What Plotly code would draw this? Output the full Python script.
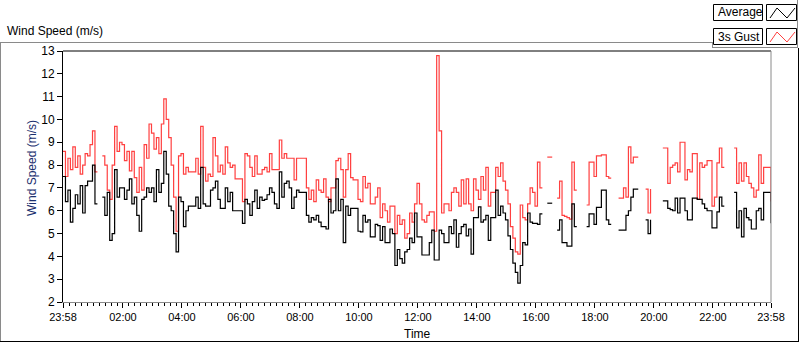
import pandas as pd
import plotly.graph_objects as go

N = None
# 5-minute samples starting 23:58, one row per hour
gust = [
    8.6, 7.5, 8.3, 7.8, 8.8, 7.9, 8.4, 7.6, 8.0, 8.5, 8.4, 8.9,
    9.5, 7.7, 7.7, N, 8.4, 8.0, 6.9, 6.5, 8.0, 9.7, 8.6, 9.0,
    8.9, 8.2, 8.6, 7.75, 8.6, 7.45, 6.8, 7.9, 6.9, 8.9, 8.3, 9.8,
    9.4, 8.7, 9.2, 8.5, 9.8, 10.9, 10.0, 9.2, 8.0, 6.6, 5.1, 8.4,
    8.5, 7.6, 7.9, 7.7, 7.7, 7.7, 8.3, 7.6, 9.7, 7.9, 7.3, 7.6,
    7.5, 9.2, 8.4, 7.7, 8.0, 7.6, 8.8, 8.1, 7.9, 8.0, 7.4, 7.4,
    7.4, 6.4, 8.5, 8.4, 7.9, 7.5, 8.4, 7.6, 7.6, 7.8, 7.9, 7.7,
    8.5, 7.8, 7.8, 7.8, 9.1, 8.3, 8.5, 8.3, 8.3, 8.3, 7.35, 8.3,
    8.3, 8.3, 8.3, 7.0, 6.5, 6.9, 6.4, 7.35, 6.9, 6.8, 7.4, 6.6,
    6.4, 7.0, 7.0, 8.2, 8.3, 7.8, 6.6, 7.8, 8.5, 7.45, 7.35, 7.35,
    6.5, 6.4, 7.5, 7.0, 7.2, 6.3, 6.3, 6.6, 7.0, 5.7, 6.3, 6.0,
    5.5, 6.2, 6.2, 5.0, 5.8, 5.4, 5.6, 4.8, 5.0, 5.9, 5.5, 6.3,
    7.2, 6.3, 5.6, 5.5, 5.8, 5.95, 5.95, 5.1, 12.8, 9.5, 5.9, 6.3,
    6.3, 6.0, 6.8, 7.0, 6.8, 6.2, 7.35, 6.3, 7.4, 6.3, 6.0, 7.4,
    6.9, 6.5, 7.5, 6.9, 7.9, 6.2, 6.8, 6.8, 7.9, 7.5, 8.1, 7.3,
    6.9, 6.3, 5.3, 4.8, 4.2, 4.1, 6.25, 5.7, 5.6, 6.3, 7.0, 6.8,
    6.2, 8.13, 7.0, 7.0, N, 8.35, 8.35, 8.35, N, 6.55, 7.3, 5.8,
    5.75, 5.7, 5.63, 8.13, 6.9, 6.9, N, N, N, 6.25, 8.13, 8.13,
    7.5, 8.4, 8.4, 8.45, 8.45, 7.5, 7.43, 7.43, N, N, 6.55, 6.55,
    7.0, 6.6, 8.8, 8.1, 8.35, 8.35, 8.35, N, N, 6.95, 5.9, 6.95,
    N, N, N, N, 8.75, 8.75, 7.2, 7.9, 8.0, 8.1, 7.7, 9.0,
    9.0, 7.35, 7.8, 7.7, 8.5, 8.5, 6.5, 8.1, 7.9, 8.0, 8.2, 8.2,
    6.2, 6.6, 8.1, 8.75, 7.9, 7.9, N, N, N, 8.75, 7.2, 8.1,
    7.3, 8.1, 7.5, 7.2, 7.0, 6.6, 6.9, 8.45, 7.2, 7.9, 7.9, 7.9, 6.4,
]
average = [
    7.5, 6.4, 6.9, 5.5, 6.1, 6.7, 6.3, 7.1, 5.9, 7.1, 7.3, 7.3,
    8.0, 6.3, 6.3, N, 6.6, 5.8, 6.8, 4.7, 5.0, 7.8, 6.6, 7.0,
    7.0, 6.5, 6.9, 7.4, 6.3, 6.6, 5.8, 5.1, 6.5, 6.6, 7.0, 6.8,
    7.0, 6.4, 7.8, 6.8, 7.2, 8.6, 7.6, 6.2, 6.0, 5.0, 4.2, 6.6,
    6.4, 5.3, 6.0, 6.2, 6.2, 6.2, 6.6, 6.1, 7.9, 6.3, 6.2, 6.2,
    6.9, 7.0, 7.3, 6.5, 6.1, 6.1, 7.0, 6.4, 6.8, 6.0, 6.0, 6.0,
    6.0, 5.45, 6.5, 6.3, 5.8, 6.4, 6.9, 6.1, 6.6, 6.45, 6.5, 6.7,
    7.0, 6.8, 6.3, 6.1, 7.7, 6.6, 7.2, 7.3, 7.0, 6.1, 6.6, 6.9,
    6.8, 6.8, 6.8, 5.8, 5.5, 5.7, 5.6, 5.8, 5.5, 5.3, 5.3, 5.2,
    6.5, 5.9, 6.0, 7.4, 6.0, 6.5, 4.6, 6.2, 5.8, 6.1, 6.1, 6.1,
    5.1, 5.07, 5.8, 5.5, 5.6, 4.85, 4.85, 5.4, 5.35, 4.7, 5.3, 4.6,
    4.6, 5.2, 5.0, 3.6, 4.3, 3.9, 3.7, 4.2, 4.3, 4.8, 4.6, 5.9,
    4.85, 4.85, 4.06, 4.06, 4.06, 4.6, 5.15, 3.84, 3.84, 5.15, 5.0, 4.6,
    4.6, 5.3, 5.0, 5.6, 4.4, 5.0, 5.3, 5.4, 4.9, 5.2, 4.1, 5.7,
    5.7, 6.17, 5.5, 5.6, 5.8, 4.7, 5.7, 5.7, 6.9, 5.8, 6.2, 5.9,
    5.6, 4.9, 4.3, 3.7, 3.3, 2.83, 3.6, 4.6, 4.5, 5.9, 5.5, 5.45,
    5.45, 5.4, 5.86, 5.86, N, 6.33, 6.33, 6.33, N, 5.15, 5.6, 4.6,
    4.6, 4.45, 4.45, 6.3, 5.3, 5.3, N, N, N, 5.3, 5.86, 5.86,
    5.4, 6.15, 6.15, 6.9, 6.9, 5.6, 5.4, 5.4, N, N, 5.15, 5.15,
    5.15, 5.8, 6.0, 6.6, 6.95, 6.95, 6.95, N, N, 5.6, 5.0, 5.6,
    N, N, N, N, 6.43, 6.43, 6.1, 6.05, 6.0, 6.55, 5.9, 6.55,
    6.55, 6.0, 5.6, 5.6, 6.55, 6.55, 6.5, 6.5, 6.3, 6.1, 6.0, 6.0,
    5.25, 5.25, 5.95, 6.6, 6.2, 6.2, N, N, N, 6.8, 5.25, 6.0,
    4.85, 6.1, 5.7, 5.6, 5.2, 5.2, 6.0, 6.1, 5.6, 6.8, 6.8, 6.8, 5.45,
]
tick_labels = ["23:58", "02:00", "04:00", "06:00", "08:00", "10:00", "12:00",
               "14:00", "16:00", "18:00", "20:00", "22:00", "23:58"]
series_names = ["Average", "3s Gust"]

start = pd.Timestamp("2024-01-01 23:58")
end = start + pd.Timedelta(hours=24)
times = pd.date_range(start, periods=len(gust), freq="5min")
tick_vals = [start] + [pd.Timestamp("2024-01-02 00:00") + pd.Timedelta(hours=h)
                       for h in range(2, 24, 2)] + [end]

W, H = 800, 342
L, R, T, B = 63, 771, 51, 302
FONT = "Liberation Sans"

def px(x):
    return (x - L) / (R - L)

def py(y):
    return (B - y) / (B - T)

fig = go.Figure()
fig.add_trace(go.Scatter(x=times, y=gust, mode="lines", name=series_names[1],
                         line=dict(color="#FF4040", width=1.2, shape="hv"),
                         connectgaps=False))
fig.add_trace(go.Scatter(x=times, y=average, mode="lines", name=series_names[0],
                         line=dict(color="#000000", width=1.2, shape="hv"),
                         connectgaps=False))

shapes = []
def line(x0, y0, x1, y1, color, w=1):
    shapes.append(dict(type="line", xref="paper", yref="paper",
                       x0=px(x0), y0=py(y0), x1=px(x1), y1=py(y1),
                       line=dict(color=color, width=w)))

# plot area border (inset look)
line(L, T, R, T, "#000000")
line(R, T, R, B, "#8a8a8a")
# outer frame
line(0, 42.5, 712, 42.5, "#8a8a8a")
line(0.5, 42, 0.5, 342, "#8a8a8a")
line(712.5, 42, 712.5, 48, "#8a8a8a")
line(712, 47.5, 798, 47.5, "#8a8a8a")
line(797.5, 0, 797.5, 48, "#8a8a8a")
line(0, 341.5, 799, 341.5, "#000000")
line(798.5, 48, 798.5, 342, "#000000")

# legend boxes
def rect(x0, y0, x1, y1):
    shapes.append(dict(type="rect", xref="paper", yref="paper",
                       x0=px(x0), y0=py(y0), x1=px(x1), y1=py(y1),
                       line=dict(color="#000000", width=1), fillcolor="white"))

def zig(x0, y0, color):
    pts = [(x0 + 3, y0 + 13), (x0 + 10, y0 + 3), (x0 + 20, y0 + 13), (x0 + 28, y0 + 3)]
    path = "M " + " L ".join(f"{px(a)},{py(b)}" for a, b in pts)
    shapes.append(dict(type="path", xref="paper", yref="paper", path=path,
                       line=dict(color=color, width=1)))

rect(713.5, 4.5, 762.5, 20.5)
rect(766.5, 4.5, 796.5, 20.5)
rect(713.5, 28.5, 762.5, 44.5)
rect(766.5, 28.5, 796.5, 44.5)
zig(767, 5, "#000000")
zig(767, 29, "#FF4040")

annotations = [
    dict(text=series_names[0], x=px(715.5), y=py(12.5), xanchor="left", yanchor="middle"),
    dict(text=series_names[1], x=px(715.5), y=py(36.5), xanchor="left", yanchor="middle"),
    dict(text="Wind Speed (m/s)", x=px(5), y=py(31), xanchor="left", yanchor="middle"),
    dict(text="Time", x=px(418), y=py(334), xanchor="center", yanchor="middle"),
    dict(text="Wind Speed (m/s)", x=px(32), y=py(168), xanchor="center", yanchor="middle",
         textangle=-90, font=dict(family=FONT, size=12, color="#1a2f6e")),
]
for a in annotations:
    a.update(xref="paper", yref="paper", showarrow=False)
    a.setdefault("font", dict(family=FONT, size=12, color="#000000"))

fig.update_layout(
    width=W, height=H,
    margin=dict(l=L, r=W - R, t=T, b=H - B, pad=0),
    paper_bgcolor="white", plot_bgcolor="white",
    showlegend=False,
    shapes=shapes, annotations=annotations,
    font=dict(family=FONT, size=12, color="#000000"),
)
fig.update_xaxes(
    type="date", range=[start, end],
    tickmode="array", tickvals=tick_vals, ticktext=tick_labels,
    ticks="outside", ticklen=5, tickwidth=1, tickcolor="#000000",
    tickfont=dict(family=FONT, size=11, color="#000000"),
    minor=dict(tickmode="linear", tick0="2024-01-02 00:00", dtick=12 * 60 * 1000,
               ticks="outside", ticklen=3, tickcolor="#000000", tickwidth=1),
    showgrid=False, zeroline=False,
    showline=True, linecolor="#8a8a8a", linewidth=1,
)
fig.update_yaxes(
    range=[2, 13], tickmode="linear", tick0=2, dtick=1,
    ticks="outside", ticklen=5, tickwidth=1, tickcolor="#000000",
    tickfont=dict(family=FONT, size=12, color="#000000"),
    showgrid=False, zeroline=False,
    showline=True, linecolor="#000000", linewidth=1,
)
fig.write_html("out.html",
               config={"displayModeBar": False},
               post_script="document.body.style.margin='0';document.body.style.overflow='hidden';")
